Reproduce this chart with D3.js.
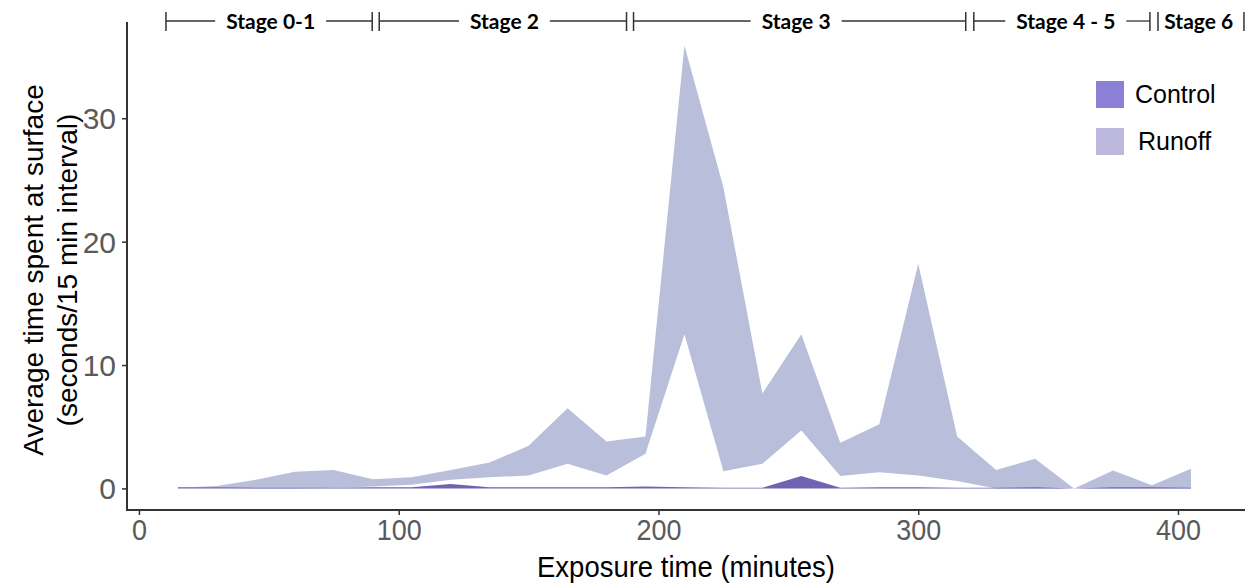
<!DOCTYPE html>
<html>
<head>
<meta charset="utf-8">
<script src="https://cdn.jsdelivr.net/npm/d3@7"></script>
<style>
  body { margin: 0; background: #fff; }
  svg { display: block; }
</style>
</head>
<body>
<svg id="chart" width="1260" height="588"></svg>
<script>
// ---- data ----
const times = [15, 30, 45, 60, 75, 90, 105, 120, 135, 150, 165, 180, 195, 210, 225, 240, 255, 270, 285, 300, 315, 330, 345, 360, 375, 390, 405];
const runoffUpper = [0.05, 0.2, 0.7, 1.35, 1.5, 0.75, 0.9, 1.5, 2.1, 3.45, 6.5, 3.8, 4.2, 35.9, 24.4, 7.7, 12.5, 3.7, 5.2, 18.2, 4.2, 1.5, 2.4, 0.0, 1.45, 0.25, 1.6];
const runoffLower = [0.1, 0.05, 0.0, 0.0, 0.05, 0.15, 0.3, 0.7, 0.9, 1.05, 2.0, 1.05, 2.8, 12.5, 1.4, 2.0, 4.7, 1.0, 1.3, 1.05, 0.6, 0.0, 0.0, 0.0, 0.0, 0.0, 0.0];
const controlUpper = [0.1, 0.1, 0.05, 0.05, 0.05, 0.1, 0.1, 0.35, 0.1, 0.1, 0.1, 0.1, 0.15, 0.1, 0.05, 0.05, 1.0, 0.05, 0.1, 0.1, 0.05, 0.05, 0.1, 0.0, 0.1, 0.1, 0.05];
const controlLower = [0.0, 0.0, 0.0, 0.0, 0.0, 0.0, 0.0, 0.0, 0.0, 0.0, 0.0, 0.0, 0.0, 0.0, 0.0, 0.0, 0.0, 0.0, 0.0, 0.0, 0.0, 0.0, 0.0, 0.0, 0.0, 0.0, 0.0];
const xTicks = [0, 100, 200, 300, 400];
const yTicks = [0, 10, 20, 30];
const seriesNames = ["Control", "Runoff"];
// stage annotations (minutes): start, end, label centre
const stageLabels = ["Stage 0-1", "Stage 2", "Stage 3", "Stage 4 - 5", "Stage 6"];
const stageStart = [10.4, 92.5, 190.4, 321.4, 392.3];
const stageEnd = [89.8, 187.7, 318.3, 389.2, 425.4];
const stageLabelAt = [50.7, 140.7, 253.0, 356.8, 408.0];

const xTitle = "Exposure time (minutes)";
const yTitle1 = "Average time spent at surface";
const yTitle2 = "(seconds/15 min interval)";

// ---- layout ----
const svg = d3.select("#chart");
const padL = 127, padR = 1245, padT = 22, padB = 510;
const x = d3.scaleLinear().domain([-4.6, 425.8]).range([padL, padR]);
const y = d3.scaleLinear().domain([-1.75, 37.8]).range([padB, padT]);

const fillRibbon = { Control: "#7162b2", Runoff: "#b9bfda" };
const fillLegend = { Control: "#8b7fd6", Runoff: "#bdb8de" };

const runoffData = times.map((t, i) => ({ t, lo: runoffLower[i], hi: runoffUpper[i] }));
const controlData = times.map((t, i) => ({ t, lo: controlLower[i], hi: controlUpper[i] }));

const area = d3.area().x(d => x(d.t)).y0(d => y(d.lo)).y1(d => y(d.hi));

svg.append("path").datum(runoffData).attr("d", area).attr("fill", fillRibbon.Runoff);
svg.append("path").datum(controlData).attr("d", area).attr("fill", fillRibbon.Control);

// ---- axes ----
const axisColor = "#333";
const gy = svg.append("g").attr("transform", `translate(${padL},0)`)
  .call(d3.axisLeft(y).tickValues(yTicks).tickSize(5).tickSizeOuter(0).tickPadding(6));
gy.select(".domain").remove();
gy.selectAll(".tick line").attr("stroke", axisColor).attr("stroke-width", 1.5);
gy.selectAll(".tick text").attr("font-family", "Liberation Sans, Arial, sans-serif")
  .attr("font-size", 30).attr("fill", "#5a5a5a").attr("dy", "0.35em");

const gx = svg.append("g").attr("transform", `translate(0,${padB})`)
  .call(d3.axisBottom(x).tickValues(xTicks).tickSize(5).tickSizeOuter(0).tickPadding(5));
gx.select(".domain").remove();
gx.selectAll(".tick line").attr("stroke", axisColor).attr("stroke-width", 1.5);
gx.selectAll(".tick text").attr("font-family", "Liberation Sans, Arial, sans-serif")
  .attr("font-size", 30).attr("fill", "#5a5a5a").attr("y", 30).attr("dy", 0)
  .each(function() {
    const n = this.textContent.length;
    d3.select(this).attr("textLength", n * 15).attr("lengthAdjust", "spacingAndGlyphs");
  });

svg.append("line").attr("x1", padL).attr("x2", padL).attr("y1", padT).attr("y2", padB + 1)
  .attr("stroke", axisColor).attr("stroke-width", 2);
svg.append("line").attr("x1", padL - 1).attr("x2", padR).attr("y1", padB).attr("y2", padB)
  .attr("stroke", axisColor).attr("stroke-width", 2);

// ---- titles ----
svg.append("text").attr("x", 686).attr("y", 577).attr("text-anchor", "middle")
  .attr("font-family", "Liberation Sans, Arial, sans-serif").attr("font-size", 29)
  .attr("textLength", 298).attr("lengthAdjust", "spacingAndGlyphs")
  .attr("fill", "#000").text(xTitle);

const yt = svg.append("g").attr("transform", "translate(0,270) rotate(-90)");
yt.append("text").attr("x", 0).attr("y", 43).attr("text-anchor", "middle")
  .attr("font-family", "Liberation Sans, Arial, sans-serif").attr("font-size", 28)
  .attr("fill", "#000").text(yTitle1);
yt.append("text").attr("x", 0).attr("y", 77).attr("text-anchor", "middle")
  .attr("font-family", "Liberation Sans, Arial, sans-serif").attr("font-size", 28)
  .attr("fill", "#000").text(yTitle2);

// ---- legend ----
const lg = svg.append("g");
seriesNames.forEach((name, i) => {
  const yy = 81 + i * 47;
  lg.append("rect").attr("x", 1096).attr("y", yy).attr("width", 28).attr("height", 27)
    .attr("fill", fillLegend[name]);
  lg.append("text").attr("x", 1135 + i * 3).attr("y", yy + 22)
    .attr("font-family", "Liberation Sans, Arial, sans-serif").attr("font-size", 25)
    .attr("fill", "#000").text(name);
});

// ---- stage bar ----
const sg = svg.append("g");
const lineY = 21;
stageLabels.forEach((lab, i) => {
  const x0 = x(stageStart[i]), x1 = x(stageEnd[i]), xc = x(stageLabelAt[i]);
  const t = sg.append("text").attr("x", xc).attr("y", 29).attr("text-anchor", "middle")
    .attr("font-family", "Lato, 'Open Sans', sans-serif").attr("font-weight", 700)
    .attr("font-size", 21).attr("fill", "#000").text(lab);
  const w = t.node().getComputedTextLength();
  const gap = 11;
  [x0, x1].forEach(xx => sg.append("line").attr("x1", xx).attr("x2", xx).attr("y1", 12).attr("y2", 31)
    .attr("stroke", "#333").attr("stroke-width", 1.5));
  if (xc - w / 2 - gap > x0) sg.append("line").attr("x1", x0).attr("x2", xc - w / 2 - gap)
    .attr("y1", lineY).attr("y2", lineY).attr("stroke", "#333").attr("stroke-width", 1.3);
  if (xc + w / 2 + gap < x1) sg.append("line").attr("x1", xc + w / 2 + gap).attr("x2", x1)
    .attr("y1", lineY).attr("y2", lineY).attr("stroke", "#333").attr("stroke-width", 1.3);
});
</script>
</body>
</html>
